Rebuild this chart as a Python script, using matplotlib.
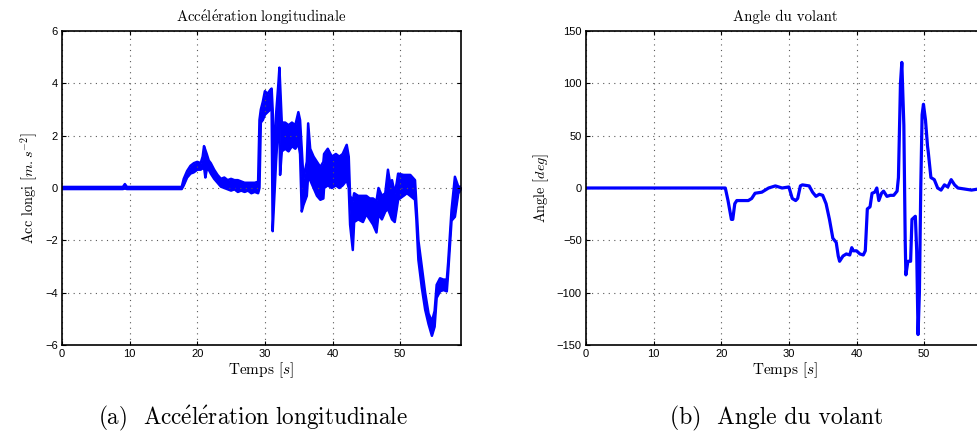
import numpy as np
import matplotlib as mpl
mpl.use("Agg")
import matplotlib.pyplot as plt

plt.rcParams.update({
    'mathtext.fontset': 'cm',
    'font.family': ['Liberation Sans', 'DejaVu Sans'],
    'xtick.direction': 'in',
    'ytick.direction': 'in',
    'xtick.top': True,
    'ytick.right': True,
    'xtick.labelsize': 8,
    'ytick.labelsize': 8,
})
serif = ['cmr10', 'DejaVu Serif']

# longitudinal acceleration: time, lower and upper edge of the (noisy) band
t_acc = [0, 9.0, 9.3, 9.6, 17.7, 18.0, 18.5, 19, 19.5, 20, 20.5, 20.8, 21.0, 21.2, 21.4, 21.7, 22, 22.5, 23,
         23.5, 24, 24.5, 25, 25.5, 26, 26.5, 27, 27.5, 28, 28.5, 29.0, 29.2, 29.4, 29.7, 30, 30.4, 30.8,
         31.0, 31.15, 31.35, 31.65, 32.0, 32.15, 32.25, 32.5, 33, 33.5, 34, 34.5, 34.95, 35.2, 35.45, 35.7,
         36.2, 36.4, 36.7, 37.2, 37.7, 38.2, 38.65, 38.75, 39.3, 39.9, 40.5, 41.0, 41.5, 42.1, 42.4, 42.6,
         43.0, 43.2, 43.8, 44.5, 45.0, 45.5, 46.0, 46.5, 46.8, 47.3, 47.8, 48.2, 48.5, 48.8, 49.2, 49.5,
         49.7, 50.5, 51, 51.5, 52.2, 52.4, 52.7, 53.2, 53.7, 54.2, 54.7, 55.1, 55.4, 55.9, 56.4, 56.9,
         57.1, 57.6, 58.1, 58.6, 59.1]
acc_lo = [-0.04, -0.04, -0.02, -0.04, -0.04, 0.1, 0.4, 0.55, 0.6, 0.7, 0.7, 0.75, 0.8, 0.4, 0.7, 0.7, 0.55, 0.35, 0.2,
          0.05, 0.0, -0.05, -0.1, -0.05, -0.15, -0.1, -0.15, -0.1, -0.2, -0.15, -0.2, 0.0, 2.5, 2.6, 2.8, 2.9, 3.0,
          3.0, -1.65, -0.6, 1.0, 2.5, 2.6, 0.5, 1.4, 1.5, 1.4, 1.6, 1.5, 1.7, 1.3, -0.9, -0.65,
          -0.3, 0.5, 0.3, 0.0, -0.3, -0.45, -0.4, 0.0, 0.1, 0.0, 0.1, 0.0, 0.1, 0.3, 0.0, -1.4,
          -2.37, -1.3, -1.2, -1.3, -1.0, -1.2, -1.4, -1.7, -1.0, -1.2, -0.9, -0.8, -1.0, -1.2, -1.3, -0.8,
          -0.45, -0.3, -0.2, -0.3, -0.45, -1.2, -2.75, -3.8, -4.65, -5.2, -5.65, -5.3, -4.2, -3.95, -3.9, -3.95,
          -3.25, -1.25, -1.1, -0.2, -0.05]
acc_hi = [0.04, 0.04, 0.15, 0.04, 0.04, 0.35, 0.65, 0.85, 0.95, 1.0, 0.95, 1.2, 1.6, 1.45, 1.3, 1.05, 0.95, 0.7, 0.5,
          0.35, 0.4, 0.3, 0.35, 0.3, 0.3, 0.25, 0.2, 0.2, 0.2, 0.2, 0.24, 2.6, 3.0, 3.3, 3.7, 3.6, 3.75,
          3.8, 3.0, 1.0, 2.8, 4.0, 4.6, 4.0, 2.5, 2.5, 2.4, 2.5, 2.4, 2.9, 2.6, 1.5, 0.35,
          1.0, 2.47, 1.5, 1.2, 1.0, 0.8, 1.0, 1.3, 1.5, 1.2, 1.3, 1.2, 1.3, 1.65, 1.2, -0.3,
          -0.5, -0.2, -0.3, -0.3, -0.3, -0.4, -0.4, -0.5, 0.0, -0.3, -0.2, 0.7, 0.2, 0.3, -0.2, 0.2,
          0.55, 0.5, 0.5, 0.5, 0.3, -0.6, -2.0, -3.0, -4.0, -4.8, -5.1, -4.7, -3.7, -3.45, -3.5, -3.5,
          -2.85, -0.85, 0.43, 0.05, 0.05]

# steering wheel angle
t_ang = [0, 20.6, 21.0, 21.5, 21.7, 22.0, 22.3, 23, 24, 24.5, 25, 26, 27, 28, 29, 30, 30.5, 31, 31.3, 31.7, 32, 33,
         33.5, 34, 34.5, 35, 35.5, 36, 36.5, 37, 37.3, 37.5, 38, 38.5, 39, 39.3, 39.5, 40, 40.5, 41, 41.3, 41.6,
         42, 42.3, 42.7, 43, 43.3, 43.7, 44, 44.5, 45, 45.5, 46, 46.2, 46.5, 46.7, 47, 47.2, 47.3, 47.6, 48, 48.2,
         48.7, 48.9, 49.1, 49.3, 49.5, 49.7, 49.9, 50.2, 50.5, 50.6, 51, 51.5, 52, 52.5, 53, 53.5, 54, 54.5, 55,
         56, 57, 58, 59]
ang = [0, 0, -12, -30, -30, -15, -12, -12, -12, -10, -5, -4, 0, 2, 0, 1, -10, -12, -10, 2, 3, 2,
       -4, -8, -6, -7, -15, -30, -48, -52, -65, -70, -65, -63, -64, -57, -60, -60, -63, -64, -60, -20,
       -18, -5, -4, 0, -12, -5, -3, -8, -7, -7, -3, 10, 100, 120, 60, -50, -83, -70, -70, -30,
       -27, -60, -140, -100, 0, 70, 80, 65, 40, 35, 10, 8, 0, -2, 3, 1, 8, 3, 0,
       -1, -2, -1, -1]

titles = [r"$\mathrm{Acc\acute{e}l\acute{e}ration\ longitudinale}$", "Angle du volant"]
ylabels = [r"Acc longi [$m.s^{-2}$]", r"Angle [$deg$]"]
captions = [r"(a)  $\mathrm{Acc\acute{e}l\acute{e}ration\ longitudinale}$", "(b)  Angle du volant"]
ylims = [(-6, 6), (-150, 150)]

W, H = 978, 437
fig = plt.figure(figsize=(W / 100, H / 100), dpi=100)
ax1 = fig.add_axes([62 / W, (H - 345) / H, 399 / W, 314 / H])
ax2 = fig.add_axes([586 / W, (H - 345) / H, 399 / W, 314 / H])

blue = (0, 0, 1)
ax1.fill_between(t_acc, acc_lo, acc_hi, color=blue, lw=0)
ax1.plot(t_acc, acc_lo, color=blue, lw=1.8)
ax1.plot(t_acc, acc_hi, color=blue, lw=1.8)
ax2.plot(t_ang, ang, color=blue, lw=2.3)

for ax, title, ylab, yl in zip([ax1, ax2], titles, ylabels, ylims):
    ax.set_xlim(0, 59)
    ax.set_ylim(*yl)
    ax.set_xticks(np.arange(0, 60, 10))
    ax.grid(True, linestyle=(0, (1, 4)), color='0.35', lw=0.8)
    ax.set_title(title, family=serif, fontsize=10.7, pad=7)
    ax.set_xlabel(r"Temps [$s$]", family=serif, fontsize=11, labelpad=1)
    ax.set_ylabel(ylab, family=serif, fontsize=10.3, labelpad=4)
    for s in ax.spines.values():
        s.set_linewidth(1.2)
    ax.tick_params(length=3, width=0.8, pad=3)

fig.text(253 / W, 1 - 418 / H, captions[0], family=serif, fontsize=16.7, ha='center', va='center')
fig.text(777 / W, 1 - 418 / H, captions[1], family=serif, fontsize=17, ha='center', va='center')

fig.savefig("out.png", dpi=100)
